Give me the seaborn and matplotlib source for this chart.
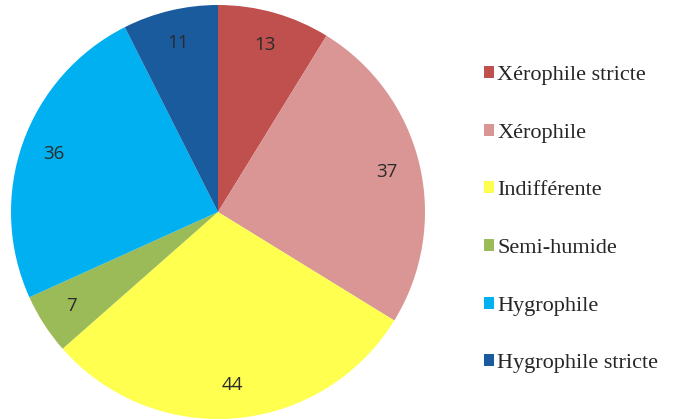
import matplotlib.pyplot as plt
from matplotlib.patches import Patch
import seaborn as sns

# Données
categories = ["Xérophile stricte", "Xérophile", "Indifférente",
              "Semi-humide", "Hygrophile", "Hygrophile stricte"]
valeurs = [13, 37, 44, 7, 36, 11]
couleurs = ["#C0504D", "#D99694", "#FFFF4F", "#9BBB59", "#00B0F0", "#1A5B9E"]

sns.set_theme(style="white")
palette = sns.color_palette(couleurs)

fig = plt.figure(figsize=(6.8, 4.2), dpi=100)
ax = fig.add_axes([11 / 680, 1 / 420, 414 / 680, 414 / 420])

total = sum(valeurs)
wedges, textes, autotextes = ax.pie(
    valeurs,
    colors=palette,
    startangle=90,
    counterclock=False,
    autopct=lambda p: "{:.0f}".format(p * total / 100),
    pctdistance=0.84,
    wedgeprops={"linewidth": 0},
    textprops={"fontsize": 13.5, "color": "#2b2b2b", "family": "Open Sans"},
)
ax.set_xlim(-1, 1)
ax.set_ylim(-1, 1)
ax.set_aspect("equal")

poignees = [Patch(facecolor=c, edgecolor="none") for c in palette]
fig.legend(
    poignees, categories,
    loc="upper left",
    bbox_to_anchor=(464 / 680, 1 - 46 / 420),
    frameon=False,
    handlelength=0.45,
    handleheight=0.45,
    handletextpad=0.15,
    labelspacing=1.74,
    prop={"family": "Liberation Serif", "size": 16},
)

fig.savefig("out.png", dpi=100)
